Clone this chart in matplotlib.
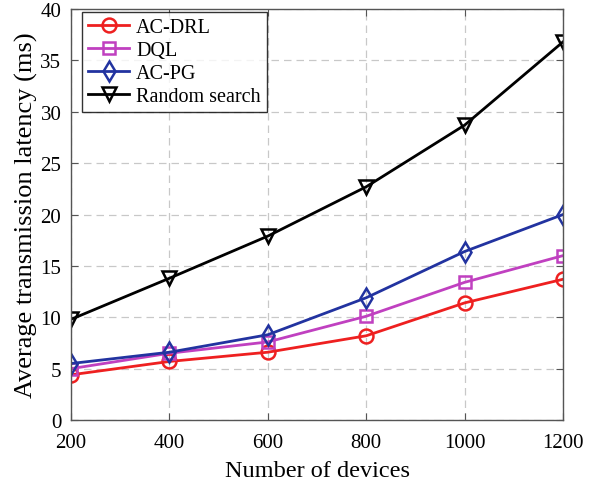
import matplotlib
matplotlib.use("Agg")
import matplotlib.pyplot as plt

devices = [200, 400, 600, 800, 1000, 1200]
ac_drl = [4.4, 5.7, 6.6, 8.2, 11.4, 13.7]
dql = [5.0, 6.5, 7.6, 10.1, 13.4, 16.0]
ac_pg = [5.5, 6.6, 8.3, 11.9, 16.4, 20.0]
random_search = [9.8, 13.8, 17.9, 22.7, 28.7, 36.8]

plt.rcParams['font.family'] = ['Liberation Serif', 'DejaVu Serif']

fig = plt.figure(figsize=(5.92, 4.89), dpi=100)
ax = fig.add_axes([0.12, 0.139, 0.831, 0.8405])

series = [
    (ac_drl, 'AC-DRL', '#ee2020', 'o'),
    (dql, 'DQL', '#c040c0', 's'),
    (ac_pg, 'AC-PG', '#2233a0', 'd'),
    (random_search, 'Random search', '#000000', 'v'),
]
for vals, name, col, mk in series:
    ax.plot(devices, vals, color=col, marker=mk, markersize=10 if mk != 's' else 9,
            markerfacecolor='none', markeredgewidth=1.8, linewidth=2, label=name)

ax.set_xlim(200, 1200)
ax.set_ylim(0, 40)
ax.set_xticks(devices)
ax.set_yticks(range(0, 41, 5))
ax.grid(True, linestyle=(0, (6, 4)), color='#c8c8c8', linewidth=0.9)
ax.tick_params(direction='in', labelsize=15, length=5, color='#555555',
               top=True, right=True)
ax.tick_params(axis='x', pad=9)
ax.tick_params(axis='y', pad=7)
for s in ax.spines.values():
    s.set_color('#555555')
    s.set_linewidth(1.0)

ax.set_xlabel('Number of devices', fontsize=17.5, labelpad=6)
ax.set_ylabel('Average transmission latency (ms)', fontsize=19, labelpad=2)

leg = ax.legend(loc='upper left', fontsize=14.5, fancybox=False, edgecolor='black',
                borderaxespad=0.0, handlelength=2.05, handletextpad=0.35,
                labelspacing=0.2, borderpad=0.3, bbox_to_anchor=(0.022, 0.993))
leg.get_frame().set_linewidth(1.0)

fig.savefig('out.png', dpi=100)
